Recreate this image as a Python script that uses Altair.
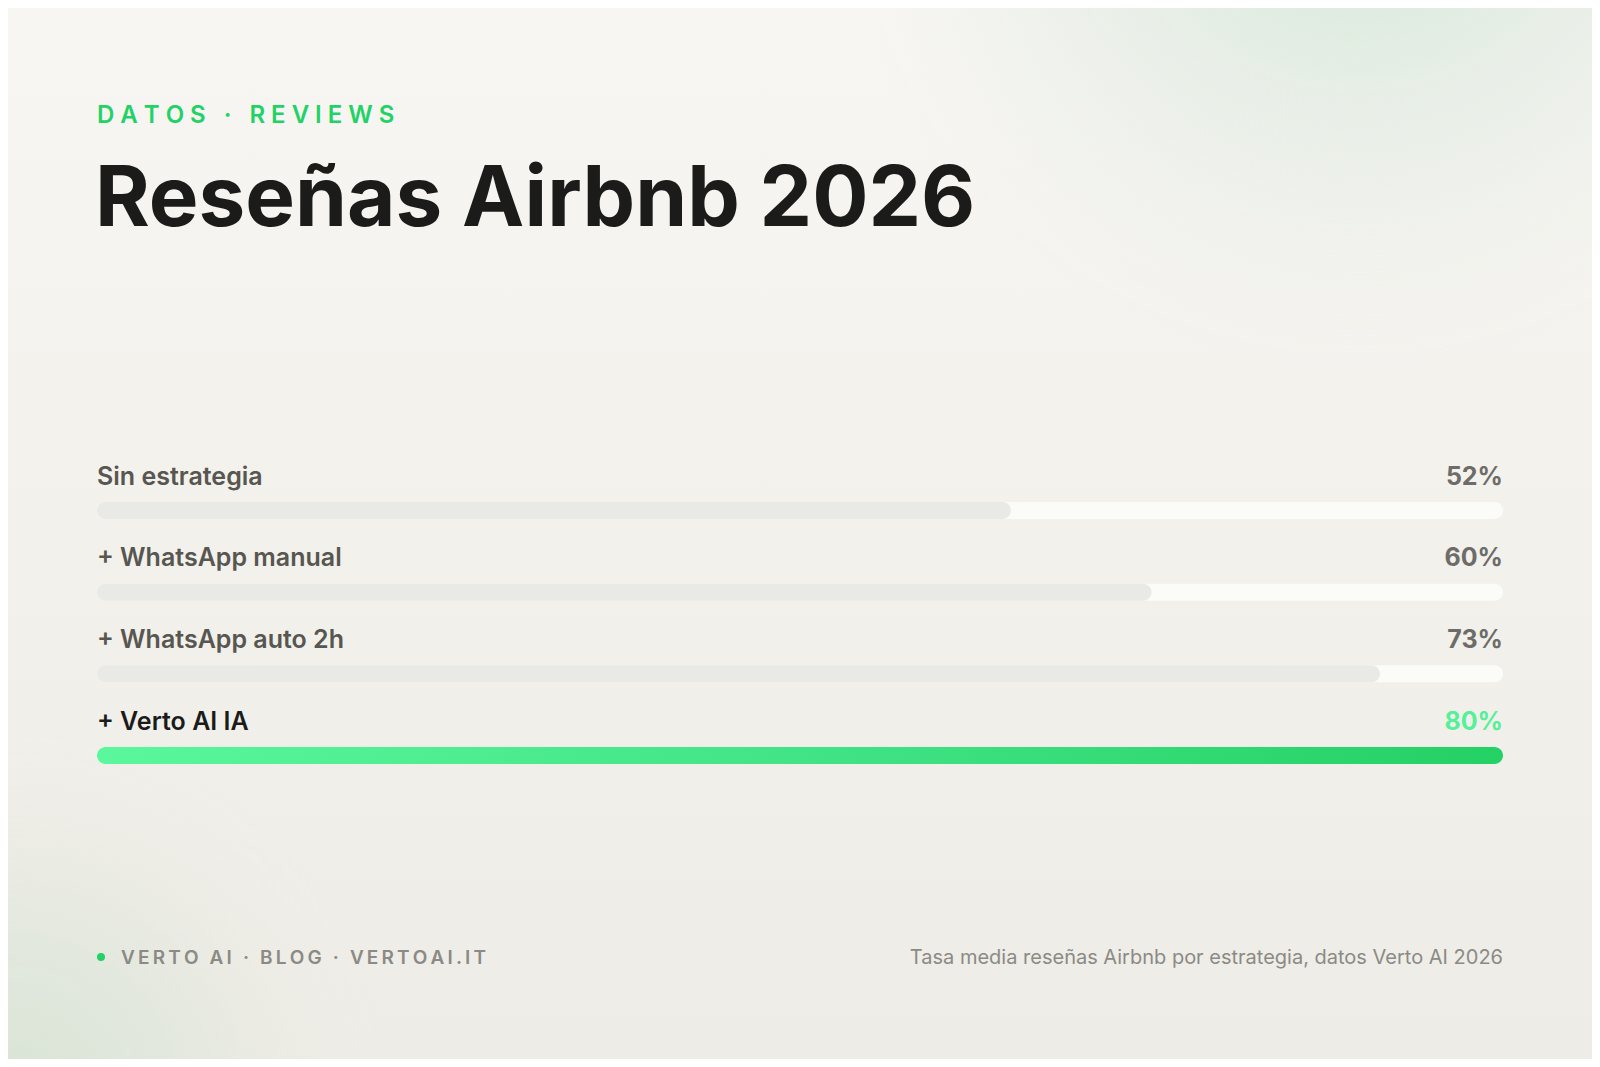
import altair as alt
import pandas as pd

# ---- data ----
labels = ["Sin estrategia", "+ WhatsApp manual", "+ WhatsApp auto 2h", "+ Verto AI IA"]
values = [52, 60, 73, 80]
highlight = [False, False, False, True]

eyebrow = "DATOS · REVIEWS"
title = "Reseñas Airbnb 2026"
footer_left = "VERTO AI · BLOG · VERTOAI.IT"
footer_right = "Tasa media reseñas Airbnb por estrategia, datos Verto AI 2026"

W, H = 1584, 1051
FONT = "Inter"


def spaced(s, sep):
    # visual letter-spacing: same characters, separated by narrow unicode spaces
    return sep.join(list(s))


df = pd.DataFrame({
    "idx": list(range(len(labels))),
    "label": labels,
    "value": values,
    "vlabel": [f"{v}%" for v in values],
    "hl": highlight,
    "maxv": [max(values)] * len(values),
    "zero": [0] * len(values),
})

xs = alt.Scale(domain=[0, max(values)], range=[89, 1495], padding=0, nice=False, zero=True)
ys = alt.Scale(domain=[0, len(labels) - 1], range=[502.5, 747.5], padding=0, nice=False, zero=False)

one = alt.Data(values=[{"k": 1}])

# ---- background ----
bg_base = alt.Chart(one).mark_rect(
    color=alt.Gradient(gradient="linear", x1=0, y1=0, x2=0, y2=1,
                       stops=[alt.GradientStop(color="#f7f6f2", offset=0),
                              alt.GradientStop(color="#eeece6", offset=1)])
).encode(x=alt.value(0), x2=alt.value(W), y=alt.value(0), y2=alt.value(H))

glow_tr = alt.Chart(one).mark_rect(
    color=alt.Gradient(gradient="radial", x1=0.5, y1=0.5, r1=0, x2=0.5, y2=0.5, r2=0.5,
                       stops=[alt.GradientStop(color="rgba(218,234,221,1)", offset=0),
                              alt.GradientStop(color="rgba(222,235,224,0.9)", offset=0.35),
                              alt.GradientStop(color="rgba(230,237,229,0.55)", offset=0.65),
                              alt.GradientStop(color="rgba(240,240,236,0)", offset=1)])
).encode(x=alt.value(820), x2=alt.value(1880), y=alt.value(-700), y2=alt.value(360))

glow_bl = alt.Chart(one).mark_rect(
    color=alt.Gradient(gradient="radial", x1=0.5, y1=0.5, r1=0, x2=0.5, y2=0.5, r2=0.5,
                       stops=[alt.GradientStop(color="rgba(214,227,212,1)", offset=0),
                              alt.GradientStop(color="rgba(222,230,218,0.7)", offset=0.45),
                              alt.GradientStop(color="rgba(238,236,230,0)", offset=1)])
).encode(x=alt.value(-380), x2=alt.value(380), y=alt.value(720), y2=alt.value(1480))

# ---- bars ----
base = alt.Chart(df)

track = base.mark_bar(orient="horizontal", cornerRadius=9, color="#fbfbf8").encode(
    x=alt.X("maxv:Q", scale=xs, axis=None),
    x2="zero:Q",
    y=alt.Y("idx:Q", scale=ys, axis=None),
    size=alt.value(17),
)

fill = base.mark_bar(orient="horizontal", cornerRadius=9, color="#e9e9e6").encode(
    x=alt.X("value:Q", scale=xs, axis=None),
    x2="zero:Q",
    y=alt.Y("idx:Q", scale=ys, axis=None),
    size=alt.value(17),
).transform_filter("!datum.hl")

fill_hl = base.mark_bar(
    orient="horizontal", cornerRadius=9,
    color=alt.Gradient(gradient="linear", x1=0, y1=0, x2=1, y2=0,
                       stops=[alt.GradientStop(color="#5af79c", offset=0),
                              alt.GradientStop(color="#3fe283", offset=0.55),
                              alt.GradientStop(color="#24d164", offset=1)])
).encode(
    x=alt.X("value:Q", scale=xs, axis=None),
    x2="zero:Q",
    y=alt.Y("idx:Q", scale=ys, axis=None),
    size=alt.value(17),
).transform_filter("datum.hl")

lab = base.mark_text(align="left", baseline="alphabetic", dy=-26, font=FONT,
                     fontSize=25, fontWeight=600).encode(
    x=alt.X("zero:Q", scale=xs, axis=None),
    y=alt.Y("idx:Q", scale=ys, axis=None),
    text="label:N",
    color=alt.condition("datum.hl", alt.value("#1b1b1a"), alt.value("#575651")),
)

val = base.mark_text(align="right", baseline="alphabetic", dy=-26, font=FONT,
                     fontSize=25, fontWeight=700).encode(
    x=alt.X("maxv:Q", scale=xs, axis=None),
    y=alt.Y("idx:Q", scale=ys, axis=None),
    text="vlabel:N",
    color=alt.condition("datum.hl", alt.value("#55f099"), alt.value("#6d6c68")),
)

# ---- titles & footer ----
t_eyebrow = alt.Chart(one).mark_text(
    text=spaced(eyebrow, "\u2005"), align="left", baseline="alphabetic", font=FONT,
    fontSize=24, fontWeight=600, color="#23d267"
).encode(x=alt.value(89), y=alt.value(115))

t_title = alt.Chart(one).mark_text(
    text=title, align="left", baseline="alphabetic", font=FONT,
    fontSize=83.5, fontWeight=700, color="#1b1b1a"
).encode(x=alt.value(87), y=alt.value(218))

dot = alt.Chart(one).mark_circle(size=64, color="#23d267", opacity=1).encode(
    x=alt.value(93), y=alt.value(949))

t_fl = alt.Chart(one).mark_text(
    text=spaced(footer_left, "\u2006"), align="left", baseline="alphabetic", font=FONT,
    fontSize=19, fontWeight=600, color="#8b8a85"
).encode(x=alt.value(113), y=alt.value(956))

t_fr = alt.Chart(one).mark_text(
    text=footer_right, align="right", baseline="alphabetic", font=FONT,
    fontSize=20, fontWeight=400, color="#8b8a85"
).encode(x=alt.value(1495), y=alt.value(956))

chart = alt.layer(
    bg_base, glow_tr, glow_bl, track, fill, fill_hl, lab, val,
    t_eyebrow, t_title, dot, t_fl, t_fr
).properties(
    width=W, height=H, padding=0,
    autosize=alt.AutoSizeParams(type="none"),
    background="#f3f2ee",
).configure_view(stroke=None)

chart.save("out.html", embed_options={"renderer": "svg", "actions": False})
